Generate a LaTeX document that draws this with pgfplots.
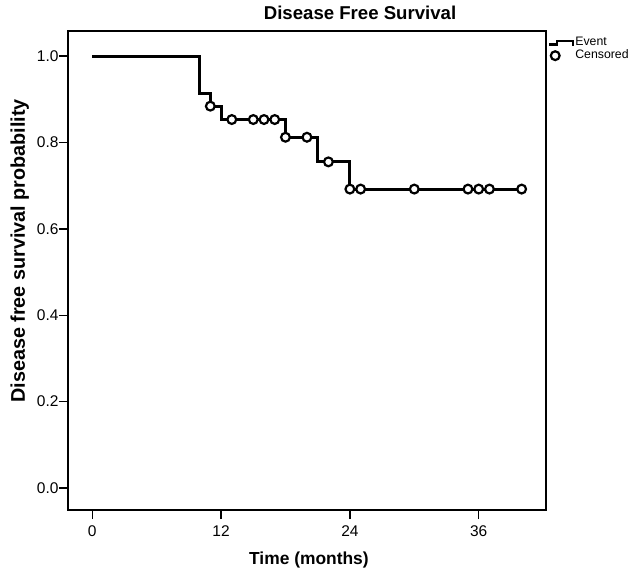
\documentclass[border=0pt]{standalone}
\usepackage{pgfplots}
\pgfplotsset{compat=1.18}
\usepackage{fontspec}
\setmainfont{Liberation Sans}

\pgfplotstableread{
t     s
0     1.000
10    0.913
11    0.884
12    0.853
18    0.812
21    0.755
24    0.692
40    0.692
}\curve

\pgfplotstableread{
t     s
11    0.884
13    0.853
15    0.853
16    0.853
17    0.853
18    0.812
20    0.812
22    0.755
24    0.692
25    0.692
30    0.692
35    0.692
36    0.692
37    0.692
40    0.692
}\censored

\begin{document}
\begin{tikzpicture}
  % page = 632 x 570, axis box from px (68,31) to (546,510)
  \useasboundingbox (-68pt,-60pt) rectangle (564pt,510pt);
  \begin{axis}[
    scale only axis,
    width=478pt, height=479pt,
    xmin=-2.26, xmax=42.27,
    ymin=-0.051, ymax=1.058,
    axis line style={line width=1.4pt},
    tick pos=left,
    tick align=outside,
    major tick length=9pt,
    tick style={line width=1.4pt, black},
    xtick={0,12,24,36},
    ytick={0,0.2,0.4,0.6,0.8,1.0},
    yticklabel style={/pgf/number format/fixed, /pgf/number format/fixed zerofill,
      /pgf/number format/precision=1, xshift=3pt},
    xticklabel style={yshift=-3pt},
    /pgf/number format/assume math mode=true,
    tick label style={font=\fontsize{15.5}{18}\selectfont},
    xlabel={\bfseries Time (months)},
    ylabel={\bfseries Disease free survival probability},
    xlabel style={at={(axis description cs:0.504,-0.1134)}, anchor=base,
      font=\fontsize{17.4}{20}\selectfont},
    ylabel style={at={(axis description cs:-0.09,0.541)}, anchor=base,
      font=\fontsize{19.8}{22}\selectfont},
    title={\bfseries Disease Free Survival},
    title style={at={(axis description cs:0.611,1.0125)}, anchor=base,
      font=\fontsize{18.6}{21}\selectfont},
    clip=false,
    legend style={
      at={(axis description cs:1.004,0.9896)},
      anchor=north west,
      draw=none, fill=none,
      font=\fontsize{12.3}{14}\selectfont,
      inner sep=0pt,
      row sep=0pt,
      column sep=0pt,
      nodes={inner sep=1pt, text height=8.6pt, text depth=2.4pt},
    },
    legend cell align=left,
  ]
    \addlegendimage{legend image code/.code={
      \draw[line width=2.2pt] (0pt,-1.8pt) -- (8pt,-1.8pt) -- (8pt,1.8pt) -- (24pt,1.8pt) -- (24pt,-3.2pt);}}
    \addlegendentry{Event}
    \addlegendimage{legend image code/.code={
      \draw[line width=2.2pt, fill=white] (6pt,0pt) circle (4.4pt);}}
    \addlegendentry{Censored}

    \addplot[const plot, line width=3pt, black] table[x=t, y=s] {\curve};
    \addplot[only marks, mark=*, mark size=4.4pt,
      mark options={line width=2.2pt, fill=white, draw=black}] table[x=t, y=s] {\censored};
  \end{axis}
\end{tikzpicture}
\end{document}
